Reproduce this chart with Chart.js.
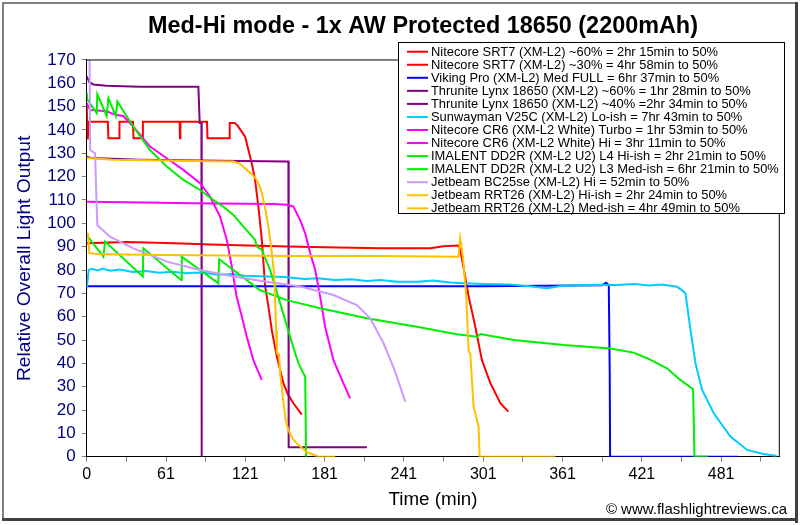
<!DOCTYPE html>
<html><head><meta charset="utf-8">
<script src="https://cdn.jsdelivr.net/npm/chart.js@4/dist/chart.umd.min.js"></script>
<style>html,body{margin:0;padding:0;background:#fff;overflow:hidden}#wrap{width:800px;height:525px;position:relative}</style>
</head><body><div id="wrap"><canvas id="c" width="800" height="525"></canvas></div>
<script>
const FONT = "'Liberation Sans', Arial, sans-serif";
const TITLE = 'Med-Hi mode - 1x AW Protected 18650 (2200mAh)';
const X_TITLE = 'Time (min)';
const Y_TITLE = 'Relative Overall Light Output';
const X_MAX = 524;
const Y_MAX = 170;

const labels = [
  'Nitecore SRT7 (XM-L2) ~60% = 2hr 15min to 50%',
  'Nitecore SRT7 (XM-L2) ~30% = 4hr 58min to 50%',
  'Viking Pro (XM-L2) Med FULL = 6hr 37min to 50%',
  'Thrunite Lynx 18650 (XM-L2) ~60% = 1hr 28min to 50%',
  'Thrunite Lynx 18650 (XM-L2) ~40% =2hr 34min to 50%',
  'Sunwayman V25C (XM-L2) Lo-ish = 7hr 43min to 50%',
  'Nitecore CR6 (XM-L2 White) Turbo = 1hr 53min to 50%',
  'Nitecore CR6 (XM-L2 White) Hi = 3hr 11min to 50%',
  'IMALENT DD2R (XM-L2 U2) L4 Hi-ish = 2hr 21min to 50%',
  'IMALENT DD2R (XM-L2 U2) L3 Med-ish = 6hr 21min to 50%',
  'Jetbeam BC25se (XM-L2) Hi = 52min to 50%',
  'Jetbeam RRT26 (XM-L2) Hi-ish = 2hr 24min to 50%',
  'Jetbeam RRT26 (XM-L2) Med-ish = 4hr 49min to 50%'
];
const colors = ['#FF0000','#FF0000','#0000FF','#800080','#800080','#00CCFF','#FF00FF','#FF00FF','#00EE00','#00EE00','#CC99FF','#FFC000','#FFC000'];

// [minutes, relative output]
const srt7Hi = [[0,150],[0.8,136],[1.5,143.5],[16,143.5],[16.4,136.5],[24.5,136.5],[24.8,143.5],[35,143.5],[35.4,136.5],[42.2,136.5],[42.5,143.5],[70.3,143.5],[70.6,136.5],[70.9,143.5],[91,143.5],[91.4,136.5],[107.8,136.5],[108.2,143],[112,143],[114,142],[117,139.5],[119.9,137],[123.6,128.6],[125.5,124],[127.4,118.6],[129.9,107.2],[132.5,92.9],[135,73],[137.5,64.3],[140,54.3],[143.8,43],[148.8,31.5],[152,27],[156.4,22.9],[162.7,18]];
const srt7Med = [[0,91.5],[30,92],[60,91.6],[100,90.8],[160,90],[222,89.3],[260,89.3],[270,90.2],[281,90.5],[282.5,89],[285,81.4],[289,68.6],[294,55.7],[299,41.4],[305.4,31.5],[313,22.9],[319,19.3]];
const vikingMed = [[0,73],[100,73],[200,73],[300,73],[390,73.5],[393,74.5],[395,73.5],[395.7,36],[396,0],[493,0]];
const lynx60 = [[0,163],[2,160.5],[5,159.5],[15,159],[40,158.5],[84.5,158.5],[85.5,143],[86.8,143],[87,0]];
const lynx40 = [[0,128.5],[3,128],[40,127.3],[100,126.8],[151.4,126.5],[152.6,126.5],[152.8,4],[212,4]];
const v25cLo = [[0,72],[1.5,80],[4,80.5],[8,79.8],[12,80.5],[18,79.7],[25,80.2],[35,79.2],[45,79.6],[55,78.8],[65,79.2],[75,78.6],[86,78.9],[100,78],[110,78.3],[120,77.5],[137,77.2],[150,77],[165,76.2],[175,76.5],[187.6,75.7],[200,76],[212,75.3],[222,75.7],[235,75],[250,75],[262,75.5],[275,74.6],[285,74.3],[300,74],[320,73.8],[335,73],[348,72.2],[360,73.3],[386,73.7],[400,73.6],[415,74],[425,73.4],[435,73.8],[446.7,72.8],[450,71.5],[453,70],[456.8,54.3],[460.6,40],[465.6,28.6],[474.4,18.6],[487,8.6],[499.7,2.9],[512,1.2],[522,0.3]];
const cr6Turbo = [[0,151.5],[2.5,148.6],[15,148],[22,146.5],[27.7,146],[35.3,141.4],[47.9,132.9],[60.6,127.9],[73.1,122.9],[85.8,117.2],[93.4,111.4],[100.9,102.9],[106,92.9],[109.8,81.4],[113.4,68.6],[117.4,60],[121.1,51.4],[126.1,41.4],[132.4,32.9]];
const cr6Hi = [[0,109.3],[30,109],[80,108.6],[141,108.3],[151.4,108],[156.4,107.2],[161.5,101.4],[165.3,95.7],[169.1,87.2],[172.9,80],[176.6,68.6],[180.4,55.7],[186.7,41.4],[193.1,32.9],[199.3,25]];
const dd2rL4 = [[0,156],[0.5,153],[7.6,147.2],[8,155.3],[15.1,146],[16.4,153.6],[22,146],[23.2,152.2],[35.3,141.4],[47.9,131.4],[60.6,124.3],[73.1,118.6],[85.8,114.3],[95.9,110],[103.4,107.1],[111,103.6],[118.6,98.6],[127.4,92.9],[128.7,90],[132.5,88.6],[138.8,80],[146.4,65.7],[153.9,51.4],[160.2,40],[165.3,34.3],[166,0]];
const dd2rL3 = [[0,95],[12.6,85.7],[13.9,92.2],[42.4,77.2],[42.9,89.3],[71.4,75.7],[71.9,85.7],[99.6,74.3],[100.2,84.6],[111,80],[131,71.4],[151.4,67.1],[176.6,63.6],[212,59.3],[249.8,55.7],[280,52.5],[295.3,51.4],[297.8,52.6],[323,50],[360.9,47.9],[396.2,46.4],[413.8,44.6],[424,42.2],[439,37.9],[449.2,32.9],[458.8,28.9],[459.8,0],[470,0]];
const bc25Hi = [[1.6,176],[2.2,170],[2.6,131.4],[6.3,130],[8,99.3],[17.6,94.3],[35.3,89.3],[60.6,83.6],[86,80],[111,77.2],[136.3,75],[161.5,72.9],[186.7,69.3],[204.4,65],[214.5,59.3],[224.6,48.6],[233,37],[241,23.6]];
const rrt26Hi = [[0,128],[20,127.3],[48,127],[80,126.7],[111,126.5],[116,125.5],[121.1,122.9],[125,121],[128.7,118.6],[131.5,115],[133.7,110],[135.5,105],[137.5,98.6],[140.1,87.2],[141.8,78.6],[143.3,54.3],[143.9,44.3],[145.4,44],[146.4,35.7],[148.9,22.9],[150.5,16],[152.6,11.4],[155.5,8],[158.9,5.7],[166.5,2],[175.3,0],[188,0]];
const rrt26Med = [[0,95.7],[1,95.5],[2,87.2],[10,86.7],[60,86.4],[150,86],[222,86],[281.3,85.7],[282.6,93.6],[284.6,85.7],[287.2,68.6],[288.2,54.3],[289,45],[290.2,44.3],[292.7,21.4],[296.5,12.9],[297.3,0],[354.6,0]];

const series = [srt7Hi, srt7Med, vikingMed, lynx60, lynx40, v25cLo, cr6Turbo, cr6Hi, dd2rL4, dd2rL3, bc25Hi, rrt26Hi, rrt26Med];

const datasets = series.map((s, i) => ({
  label: labels[i],
  data: s.map(p => ({x: p[0], y: p[1]})),
  borderColor: colors[i],
  backgroundColor: colors[i],
  borderWidth: 2,
  pointRadius: 0,
  tension: 0,
  fill: false,
  order: -i
}));

const decor = {
  id: 'decor',
  afterDraw(chart) {
    const ctx = chart.ctx;
    const a = chart.chartArea;
    ctx.save();
    // plot frame
    ctx.strokeStyle = '#000';
    ctx.lineWidth = 1;
    ctx.beginPath();
    ctx.moveTo(a.left, a.top); ctx.lineTo(a.right, a.top); ctx.lineTo(a.right, a.bottom);
    ctx.stroke();
    // legend
    const lx = 398.5, ly = 42.5, lw = 386, lh = 171;
    ctx.fillStyle = '#fff';
    ctx.fillRect(lx, ly, lw, lh);
    ctx.strokeStyle = '#000';
    ctx.strokeRect(lx, ly, lw, lh);
    ctx.font = '12.9px ' + FONT;
    ctx.textBaseline = 'middle';
    chart.data.datasets.forEach((ds, i) => {
      const y = 51.7 + i * 13.05;
      ctx.strokeStyle = ds.borderColor;
      ctx.lineWidth = 2;
      ctx.beginPath(); ctx.moveTo(407, y); ctx.lineTo(428, y); ctx.stroke();
      ctx.fillStyle = '#000';
      ctx.fillText(ds.label, 431, y + 0.5);
    });
    // copyright
    ctx.font = '15px ' + FONT;
    ctx.textAlign = 'right';
    ctx.fillStyle = '#000';
    ctx.fillText('\u00A9 www.flashlightreviews.ca', 787, 510);
    // outer frame
    ctx.strokeStyle = '#808080';
    ctx.lineWidth = 2;
    ctx.beginPath();
    ctx.moveTo(3, 520); ctx.lineTo(3, 3); ctx.lineTo(797, 3);
    ctx.stroke();
    ctx.fillStyle = '#404040';
    ctx.fillRect(795, 2, 3, 521);
    ctx.fillRect(2, 518, 796, 3);
    ctx.restore();
  }
};

new Chart(document.getElementById('c'), {
  type: 'line',
  data: { datasets },
  plugins: [decor],
  options: {
    responsive: false,
    animation: false,
    devicePixelRatio: 1,
    layout: { padding: { left: 46, right: 0, top: 0, bottom: 0 } },
    plugins: {
      legend: { display: false },
      tooltip: { enabled: false },
      title: {
        display: true, text: TITLE, color: '#000',
        font: { family: FONT, size: 23.4, weight: 'bold' },
        padding: { top: 13, bottom: 18.9 }
      }
    },
    scales: {
      x: {
        type: 'linear', min: 0, max: X_MAX,
        afterFit: s => { s.height = 68.3; },
        ticks: {
          stepSize: 30, autoSkip: false, maxRotation: 0, includeBounds: false,
          color: '#000', font: { family: FONT, size: 16 }, padding: 3,
          callback: v => (v % 60 === 0 ? (v === 0 ? '0' : String(v + 1)) : '')
        },
        grid: { drawOnChartArea: false, drawTicks: true, tickLength: 5, color: '#808080' },
        border: { color: '#000', width: 1 },
        title: { display: true, text: X_TITLE, color: '#000', font: { family: FONT, size: 18.8 }, padding: { top: 0, bottom: 13.5 } }
      },
      y: {
        min: 0, max: Y_MAX,
        afterFit: s => { s.width = 40.7; },
        ticks: { stepSize: 10, autoSkip: false, color: '#000080', font: { family: FONT, size: 17 }, padding: 6 },
        grid: { drawOnChartArea: false, drawTicks: true, tickLength: 5, color: '#808080' },
        border: { color: '#000', width: 1 },
        title: { display: true, text: Y_TITLE, color: '#000080', font: { family: FONT, size: 19.2 }, padding: { top: -32.5, bottom: 0 } }
      },
      yRight: {
        position: 'right', min: 0, max: 1,
        afterFit: s => { s.width = 20.7; },
        ticks: { display: false },
        grid: { display: false, drawTicks: false },
        border: { display: false }
      }
    }
  }
});
</script></body></html>
